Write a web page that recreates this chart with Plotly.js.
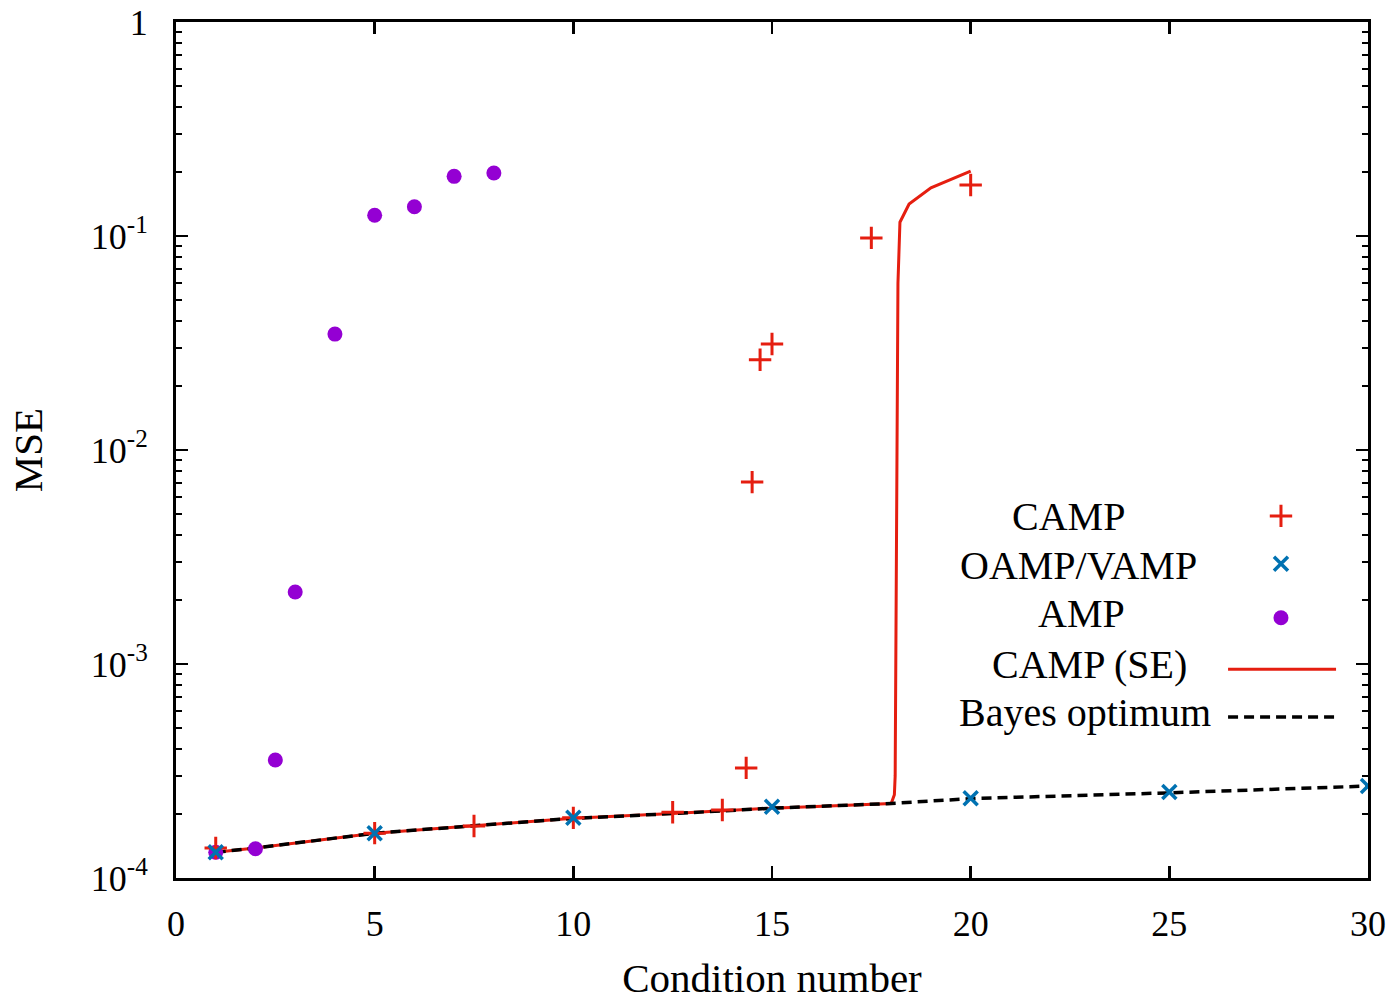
<!DOCTYPE html>
<html>
<head>
<meta charset="utf-8">
<script src="https://cdn.plot.ly/plotly-3.0.1.min.js"></script>
<style>html,body{margin:0;padding:0;background:#fff;}#chart{width:1398px;height:1001px;}</style>
</head>
<body>
<div id="chart"></div>
<script>
// ---- data ----
const campX = [1, 5, 7.5, 10, 12.5, 13.75, 14.35, 14.5, 14.7, 15, 17.5, 20];
const campY = [1.38e-4, 1.62e-4, 1.75e-4, 1.91e-4, 2.03e-4, 2.08e-4, 3.27e-4, 7.08e-3, 0.0264, 0.0313, 0.098, 0.173];

const oampX = [1, 5, 10, 15, 20, 25, 30];
const oampY = [1.32e-4, 1.62e-4, 1.91e-4, 2.15e-4, 2.36e-4, 2.52e-4, 2.69e-4];

const ampX = [1, 2, 2.5, 3, 4, 5, 6, 7, 8];
const ampY = [1.32e-4, 1.37e-4, 3.56e-4, 2.17e-3, 0.0348, 0.125, 0.137, 0.190, 0.197];

const seX = [1, 2, 5, 7.5, 10, 12.5, 15, 18, 18.08, 18.1, 18.13, 18.17, 18.22, 18.45, 19, 20];
const seY = [1.32e-4, 1.38e-4, 1.62e-4, 1.75e-4, 1.90e-4, 2.0e-4, 2.12e-4, 2.23e-4, 2.45e-4, 3.0e-4, 4.9e-3, 0.06, 0.116, 0.141, 0.168, 0.201];

const bayesX = [1, 2, 5, 7.5, 10, 12.5, 15, 18, 20, 25, 28.3, 30];
const bayesY = [1.32e-4, 1.38e-4, 1.62e-4, 1.75e-4, 1.90e-4, 2.0e-4, 2.12e-4, 2.23e-4, 2.35e-4, 2.5e-4, 2.61e-4, 2.69e-4];

const xTickVals = [0, 5, 10, 15, 20, 25, 30];
const yTickVals = [1e-4, 1e-3, 1e-2, 1e-1, 1];
const yTickText = ['10<sup>-4</sup>', '10<sup>-3</sup>', '10<sup>-2</sup>', '10<sup>-1</sup>', '1'];
const seriesNames = ['CAMP', 'OAMP/VAMP', 'AMP', 'CAMP (SE)', 'Bayes optimum'];

// ---- styles ----
const RED = '#e51e10', BLUE = '#0072b2', PURPLE = '#9400d3';
const FONT = 'Liberation Serif, Times New Roman, serif';

const yMinor = [];
for (let e = -4; e < 0; e++) for (let m = 2; m <= 9; m++) yMinor.push(m * Math.pow(10, e));

const plusMarker = {symbol: 'cross-thin-open', size: 16, color: RED, line: {color: RED, width: 3}};
const xMarker = {symbol: 'x-thin-open', size: 14, color: BLUE, line: {color: BLUE, width: 3.5}};
const dotMarker = {symbol: 'circle', size: 15, color: PURPLE};
const seLine = {color: RED, width: 3};
const bayesLine = {color: '#000', width: 3.5, dash: '10px,6px'};

const traces = [
  {x: seX, y: seY, mode: 'lines', line: seLine, name: seriesNames[3]},
  {x: bayesX, y: bayesY, mode: 'lines', line: bayesLine, name: seriesNames[4]},
  {x: ampX, y: ampY, mode: 'markers', marker: dotMarker, name: seriesNames[2]},
  {x: campX, y: campY, mode: 'markers', marker: plusMarker, name: seriesNames[0]},
  {x: oampX, y: oampY, mode: 'markers', marker: xMarker, name: seriesNames[1]},
];

// custom legend (text left, sample right) drawn in a fixed [0,1] overlay frame
const keyX = 0.927, keyY = [0.423, 0.367, 0.304, 0.244, 0.188];
const keyLine = [0.8826, 0.9732];
traces.push(
  {x: [keyX], y: [keyY[0]], xaxis: 'x2', yaxis: 'y2', mode: 'markers', marker: plusMarker, hoverinfo: 'skip'},
  {x: [keyX], y: [keyY[1]], xaxis: 'x2', yaxis: 'y2', mode: 'markers', marker: xMarker, hoverinfo: 'skip'},
  {x: [keyX], y: [keyY[2]], xaxis: 'x2', yaxis: 'y2', mode: 'markers', marker: dotMarker, hoverinfo: 'skip'},
  {x: keyLine, y: [keyY[3], keyY[3]], xaxis: 'x2', yaxis: 'y2', mode: 'lines', line: seLine, hoverinfo: 'skip'},
  {x: keyLine, y: [keyY[4], keyY[4]], xaxis: 'x2', yaxis: 'y2', mode: 'lines', line: bayesLine, hoverinfo: 'skip'}
);

const textCx = [0.749, 0.757, 0.760, 0.766, 0.763];
const textCy = [0.422, 0.365, 0.309, 0.250, 0.193];
const annotations = seriesNames.map((t, i) => ({
  text: t, xref: 'paper', yref: 'paper', x: textCx[i], y: textCy[i],
  xanchor: 'center', yanchor: 'middle', showarrow: false,
  font: {family: FONT, size: 40, color: '#000'}
}));

const layout = {
  width: 1398, height: 1001,
  margin: {l: 176, r: 30, t: 22, b: 123},
  paper_bgcolor: '#fff', plot_bgcolor: '#fff',
  showlegend: false,
  font: {family: FONT, color: '#000'},
  xaxis: {
    range: [0, 30], tickvals: xTickVals, ticks: 'inside', ticklen: 12, tickwidth: 2.5, tickcolor: '#000',
    showline: true, linecolor: '#000', linewidth: 3, mirror: 'ticks', showgrid: false, zeroline: false,
    tickfont: {family: FONT, size: 36, color: '#000'}, ticklabelstandoff: 12,
    title: {text: 'Condition number', font: {family: FONT, size: 41, color: '#000'}, standoff: 27},
    automargin: false
  },
  yaxis: {
    type: 'log', range: [-4, 0], tickvals: yTickVals, ticktext: yTickText,
    ticks: 'inside', ticklen: 12, tickwidth: 2.5, tickcolor: '#000',
    minor: {tickvals: yMinor, ticks: 'inside', ticklen: 6, tickwidth: 2, tickcolor: '#000', showgrid: false},
    showline: true, linecolor: '#000', linewidth: 3, mirror: 'ticks', showgrid: false, zeroline: false,
    tickfont: {family: FONT, size: 36, color: '#000'}, ticklabelstandoff: 18,
    title: {text: 'MSE', font: {family: FONT, size: 41, color: '#000'}, standoff: 36},
    automargin: false
  },
  xaxis2: {overlaying: 'x', range: [0, 1], visible: false, fixedrange: true},
  yaxis2: {overlaying: 'y', range: [0, 1], visible: false, fixedrange: true},
  annotations: annotations
};

Plotly.newPlot('chart', traces, layout, {displayModeBar: false, staticPlot: true});
</script>
</body>
</html>
